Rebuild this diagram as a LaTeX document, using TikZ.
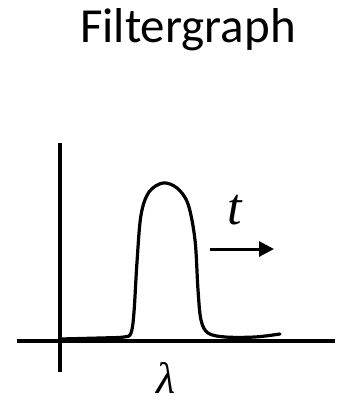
\documentclass[tikz,border=0pt]{standalone}
\usepackage{fontspec}
\newfontfamily\titlefont{Carlito}
\newfontfamily\symfont{Liberation Serif}
\usetikzlibrary{arrows.meta}
\begin{document}
\begin{tikzpicture}[x=1pt,y=-1pt,
  axis/.style={line width=3.3pt},
  curve/.style={line width=3.2pt, line join=round, line cap=round},
  lbl/.style={inner sep=0pt}]
\useasboundingbox (0,0) rectangle (350,405);
\node[lbl] (title) at (188,30) {\titlefont\fontsize{49}{55}\selectfont Filtergraph};
\coordinate (ytop) at (60,143);
\coordinate (ybot) at (60,372);
\coordinate (xl) at (17,341);
\coordinate (xr) at (335,341);
\draw[axis] (ytop) -- (ybot);
\draw[axis] (xl) -- (xr);
\draw[curve] plot[smooth, tension=0.55] coordinates {
 (60,339) (100,338) (124,337) (131,333) (134,312) (137,262) (141,215)
 (149,192) (163,183) (177,188) (188,204) (195,240) (198,290) (201,320)
 (208,333) (225,337) (255,337) (280,334)};
\coordinate (as) at (210,249);
\coordinate (ae) at (274,249);
\draw[line width=3pt, -{Triangle[length=15pt,width=15pt]}] (as) -- (ae);
\node[lbl] (t) at (235,210) {\symfont\itshape\fontsize{52}{54}\selectfont t};
\node[lbl] (lam) at (166,378) {\symfont\itshape\fontsize{44}{46}\selectfont λ};
\end{tikzpicture}
\end{document}
